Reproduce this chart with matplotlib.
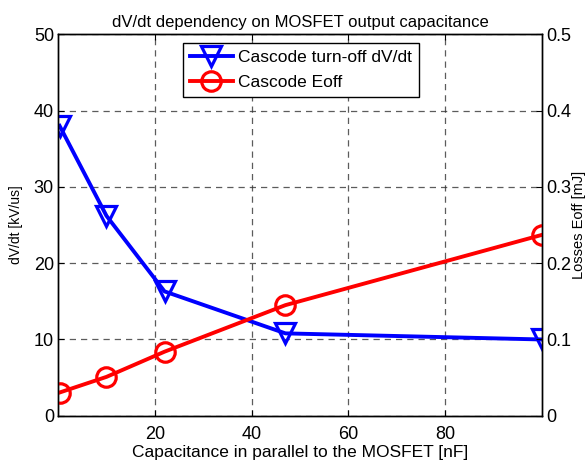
import numpy as np
import matplotlib.pyplot as plt

plt.rcParams['font.family'] = ['Liberation Sans', 'DejaVu Sans']

# Data
cap_nf = [0.3, 10, 22, 47, 100]              # capacitance in parallel [nF]
dvdt = [38.0, 26.2, 16.3, 10.8, 10.0]        # turn-off dV/dt [kV/us]
eoff = [0.0305, 0.051, 0.084, 0.145, 0.237]  # losses Eoff [mJ]

x_ticks = [20, 40, 60, 80]

fig = plt.figure(figsize=(5.87, 4.62), dpi=100)
ax = fig.add_axes([0.099, 0.100, 0.824, 0.826])
ax2 = ax.twinx()

l1, = ax.plot(cap_nf, dvdt, color='#0000ff', linewidth=2.8, marker='v',
              markersize=14, markerfacecolor='none', markeredgewidth=2.3,
              label='Cascode turn-off dV/dt')
l2, = ax2.plot(cap_nf, eoff, color='#ff0000', linewidth=2.8, marker='o',
               markersize=14, markerfacecolor='none', markeredgewidth=2.3,
               label='Cascode Eoff')

ax.set_xlim(0, 100)
ax.set_ylim(0, 50)
ax2.set_ylim(0, 0.5)
ax.set_xticks(x_ticks)
ax.set_yticks(np.arange(0, 51, 10))
ax2.set_yticks([0, 0.1, 0.2, 0.3, 0.4, 0.5])
ax2.set_yticklabels(['0', '0.1', '0.2', '0.3', '0.4', '0.5'])

for a in (ax, ax2):
    a.tick_params(direction='in', length=4, labelsize=13, width=0.8, pad=3)
    for s in a.spines.values():
        s.set_linewidth(1.0)
ax.tick_params(axis='x', top=True, pad=7)

ax.grid(True, color='#333333', linestyle=(0, (5, 4)), linewidth=0.9, alpha=0.8)

ax.set_title('dV/dt dependency on MOSFET output capacitance', fontsize=12, pad=5)
ax.set_xlabel('Capacitance in parallel to the MOSFET [nF]', fontsize=12.5, labelpad=2)
ax.set_ylabel('dV/dt [kV/us]', fontsize=10)
ax2.set_ylabel('Losses Eoff [mJ]', fontsize=10.5)
ax.yaxis.set_label_coords(-0.072, 0.5)
ax2.yaxis.set_label_coords(1.062, 0.5)

leg = ax.legend(handles=[l1, l2], loc='upper center', bbox_to_anchor=(0.502, 0.977),
                fontsize=12.5, fancybox=False, framealpha=1, edgecolor='black',
                borderpad=0.4, handlelength=2.5, handletextpad=0.3, labelspacing=0.55,
                borderaxespad=0)
leg.get_frame().set_linewidth(1.0)
leg.set_zorder(10)

fig.savefig('out.png', dpi=100)
